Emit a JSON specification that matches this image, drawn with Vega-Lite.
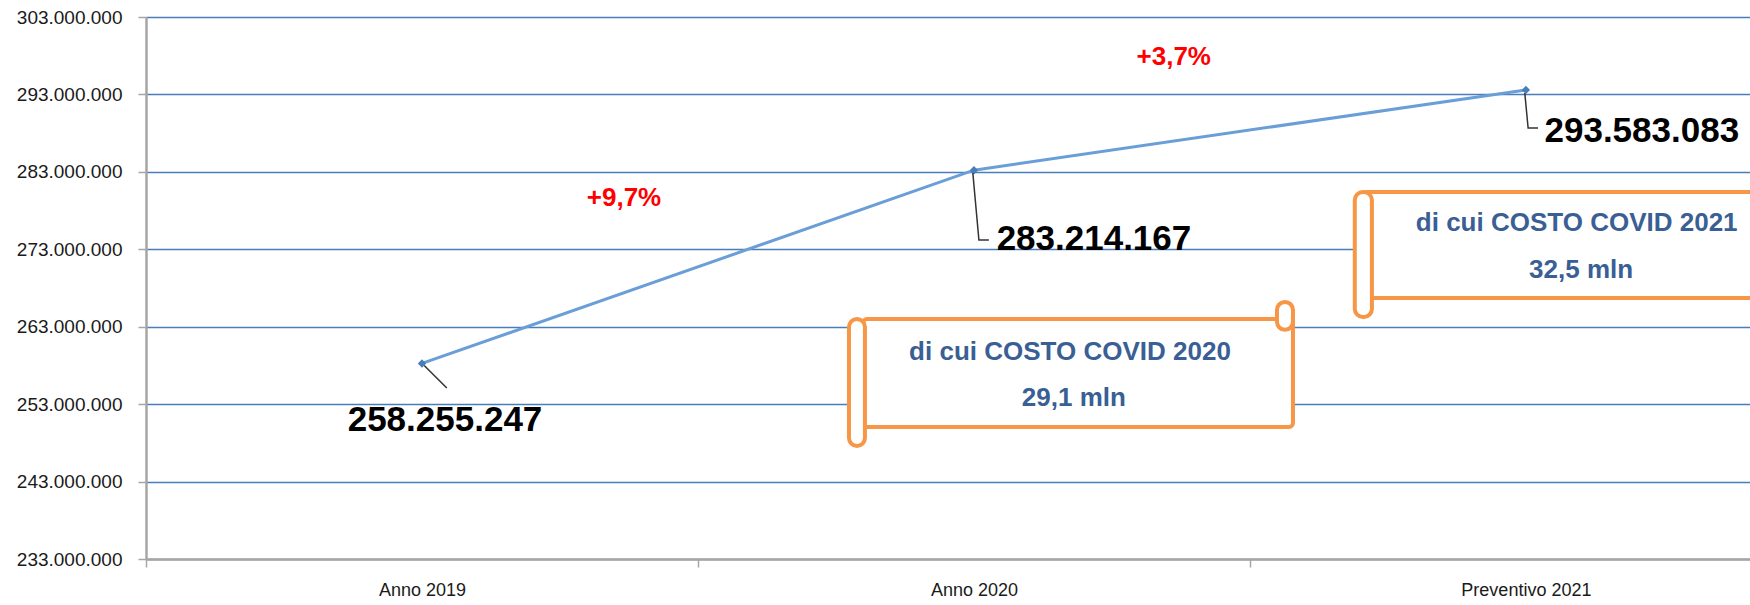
{
  "$schema": "https://vega.github.io/schema/vega-lite/v6.json",
  "width": 1604,
  "height": 542,
  "autosize": {"type": "none"},
  "padding": {"left": 146, "top": 17, "right": 0, "bottom": 46},
  "background": "white",
  "config": {
    "view": {"stroke": null},
    "locale": {"number": {"decimal": ",", "thousands": ".", "grouping": [3], "currency": ["€", ""]}},
    "font": "Liberation Sans"
  },
  "datasets": {
    "serie": [
      {"periodo": "Anno 2019", "pos": 0.5, "valore": 258255247},
      {"periodo": "Anno 2020", "pos": 1.5, "valore": 283214167},
      {"periodo": "Preventivo 2021", "pos": 2.5, "valore": 293583083}
    ],
    "etichette": [
      {"pos": 0.5417, "val": 250950000, "valore": 258255247},
      {"pos": 1.7174, "val": 274330000, "valore": 283214167},
      {"pos": 2.7100, "val": 288280000, "valore": 293583083}
    ],
    "variazioni": [
      {"pos": 0.866, "val": 279620000, "testo": "+9,7%"},
      {"pos": 1.862, "val": 297830000, "testo": "+3,7%"}
    ],
    "richiami": [
      {"id": "A", "ord": 1, "pos": 0.504, "val": 258000000},
      {"id": "A", "ord": 2, "pos": 0.545, "val": 255080000},
      {"id": "B", "ord": 1, "pos": 1.498, "val": 282850000},
      {"id": "B", "ord": 2, "pos": 1.509, "val": 274200000},
      {"id": "B", "ord": 3, "pos": 1.527, "val": 274200000},
      {"id": "C", "ord": 1, "pos": 2.498, "val": 293180000},
      {"id": "C", "ord": 2, "pos": 2.504, "val": 288660000},
      {"id": "C", "ord": 3, "pos": 2.522, "val": 288660000}
    ],
    "riquadri": [
      {"x1": 1.299, "x2": 2.078, "y1": 250050000, "y2": 264000000},
      {"x1": 2.2047, "x2": 3.0, "y1": 266700000, "y2": 280400000}
    ],
    "rotoli": [
      {"x1": 1.2736, "x2": 1.3025, "y1": 247600000, "y2": 264000000},
      {"x1": 2.049, "x2": 2.078, "y1": 262600000, "y2": 266200000},
      {"x1": 2.190, "x2": 2.221, "y1": 264250000, "y2": 280400000}
    ],
    "testi_covid": [
      {"pos": 1.674, "val": 259730000, "testo": "di cui COSTO COVID 2020"},
      {"pos": 1.681, "val": 253800000, "testo": "29,1 mln"},
      {"pos": 2.592, "val": 276400000, "testo": "di cui COSTO COVID 2021"},
      {"pos": 2.600, "val": 270300000, "testo": "32,5 mln"}
    ]
  },
  "layer": [
    {
      "data": {"name": "serie"},
      "mark": {"type": "line", "color": "#6a9ed6", "strokeWidth": 3},
      "encoding": {
        "x": {
          "field": "pos", "type": "quantitative",
          "scale": {"domain": [0, 2.906], "nice": false, "zero": false},
          "axis": {
            "title": null,
            "values": [0, 0.5, 1, 1.5, 2, 2.5],
            "labelExpr": "datum.value == 0.5 ? 'Anno 2019' : datum.value == 1.5 ? 'Anno 2020' : datum.value == 2.5 ? 'Preventivo 2021' : ''",
            "grid": false,
            "domainColor": "#a6a6a6", "domainWidth": 2.5,
            "tickColor": "#a6a6a6", "tickWidth": 1.5, "tickSize": 8,
            "tickOpacity": {"condition": {"test": "datum.value % 1 != 0", "value": 0}, "value": 1},
            "labelFont": "Liberation Sans", "labelFontSize": 18, "labelColor": "#1a1a1a",
            "labelPadding": 14, "labelFlush": false, "labelOverlap": false
          }
        },
        "y": {
          "field": "valore", "type": "quantitative",
          "scale": {"domain": [233000000, 303000000], "nice": false, "zero": false},
          "axis": {
            "title": null,
            "values": [233000000, 243000000, 253000000, 263000000, 273000000, 283000000, 293000000, 303000000],
            "format": ",d",
            "grid": true, "gridColor": "#4a7ebb", "gridWidth": 1.5,
            "domainColor": "#a6a6a6", "domainWidth": 2.5,
            "tickColor": "#a6a6a6", "tickWidth": 1.5, "tickSize": 8,
            "labelFont": "Liberation Sans", "labelFontSize": 19, "labelColor": "#1a1a1a",
            "labelPadding": 16
          }
        }
      }
    },
    {
      "data": {"name": "serie"},
      "mark": {"type": "point", "shape": "diamond", "filled": true, "size": 70, "color": "#4a7ebb", "opacity": 1},
      "encoding": {
        "x": {"field": "pos", "type": "quantitative"},
        "y": {"field": "valore", "type": "quantitative"}
      }
    },
    {
      "data": {"name": "richiami"},
      "mark": {"type": "line", "color": "#333333", "strokeWidth": 1.5},
      "encoding": {
        "x": {"field": "pos", "type": "quantitative"},
        "y": {"field": "val", "type": "quantitative"},
        "detail": {"field": "id"},
        "order": {"field": "ord"}
      }
    },
    {
      "data": {"name": "riquadri"},
      "mark": {"type": "rect", "fill": "white", "stroke": "#f79646", "strokeWidth": 4, "cornerRadius": 4, "clip": true},
      "encoding": {
        "x": {"field": "x1", "type": "quantitative"},
        "x2": {"field": "x2"},
        "y": {"field": "y1", "type": "quantitative"},
        "y2": {"field": "y2"}
      }
    },
    {
      "data": {"name": "rotoli"},
      "mark": {"type": "rect", "fill": "white", "stroke": "#f79646", "strokeWidth": 4, "cornerRadius": 8},
      "encoding": {
        "x": {"field": "x1", "type": "quantitative"},
        "x2": {"field": "x2"},
        "y": {"field": "y1", "type": "quantitative"},
        "y2": {"field": "y2"}
      }
    },
    {
      "data": {"name": "testi_covid"},
      "mark": {"type": "text", "font": "Liberation Sans", "fontWeight": "bold", "fontSize": 26, "color": "#3a5f94", "align": "center", "baseline": "middle"},
      "encoding": {
        "x": {"field": "pos", "type": "quantitative"},
        "y": {"field": "val", "type": "quantitative"},
        "text": {"field": "testo"}
      }
    },
    {
      "data": {"name": "etichette"},
      "mark": {"type": "text", "font": "Liberation Sans", "fontWeight": "bold", "fontSize": 35, "color": "#000000", "align": "center", "baseline": "middle"},
      "encoding": {
        "x": {"field": "pos", "type": "quantitative"},
        "y": {"field": "val", "type": "quantitative"},
        "text": {"field": "valore", "type": "quantitative", "format": ",d"}
      }
    },
    {
      "data": {"name": "variazioni"},
      "mark": {"type": "text", "font": "Liberation Sans", "fontWeight": "bold", "fontSize": 26, "color": "#ff0000", "align": "center", "baseline": "middle"},
      "encoding": {
        "x": {"field": "pos", "type": "quantitative"},
        "y": {"field": "val", "type": "quantitative"},
        "text": {"field": "testo"}
      }
    }
  ]
}
